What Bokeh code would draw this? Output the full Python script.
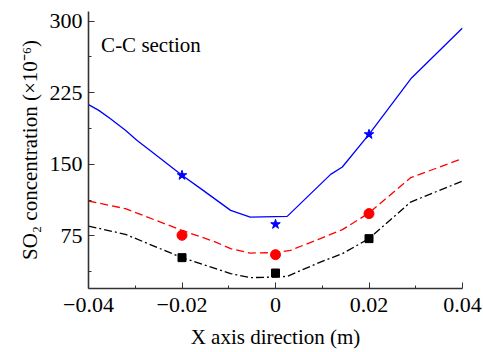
from bokeh.plotting import figure
from bokeh.models import FixedTicker, Label, Range1d
from bokeh.embed import file_html
from bokeh.resources import INLINE

# ---- data ----
blue_x = [-0.04, -0.0378, -0.0353, -0.0321, -0.0296, -0.0264, -0.02, -0.0157, -0.0096,
          -0.0054, 0.0025, 0.0118, 0.0143, 0.02, 0.0291, 0.04]
blue_y = [212.5, 206.5, 197.8, 185.6, 175.0, 162.9, 138.5, 123.5, 101.8,
          94.8, 95.5, 139.5, 147.2, 181.4, 240.4, 292.7]
red_x = [-0.04, -0.0321, -0.02, -0.0128, -0.0096, -0.0054, 0.0, 0.0032, 0.0096, 0.0143,
         0.02, 0.0289, 0.04]
red_y = [111.6, 103.6, 80.9, 68.6, 61.7, 57.1, 57.6, 60.0, 72.2, 81.6,
         99.0, 136.0, 156.0]
black_x = [-0.04, -0.0321, -0.02, -0.0128, -0.0096, -0.0054, 0.0, 0.0025, 0.0096, 0.0143,
           0.02, 0.0289, 0.04]
black_y = [85.4, 76.7, 52.3, 40.8, 35.6, 31.4, 32.0, 32.7, 47.7, 56.5,
           72.2, 110.5, 132.5]

pts_x = [-0.02, 0.0, 0.02]
star_y = [138.5, 87.2, 181.4]
circle_y = [75.7, 55.4, 98.4]
square_y = [52.3, 36.2, 72.2]

x_ticks = [-0.04, -0.02, 0.0, 0.02, 0.04]
x_tick_labels = ["\u22120.04", "\u22120.02", "0", "0.02", "0.04"]
x_minor = [-0.03, -0.01, 0.01, 0.03]
y_ticks = [75, 150, 225, 300]
y_minor = [37.5, 112.5, 187.5, 262.5]

x_title = "X axis direction (m)"
y_title = "SO\u2082 concentration (\u00d710\u207b\u2076)"
section_label = "C-C section"

FONT = "Liberation Serif"

p = figure(width=483, height=352, output_backend="svg", toolbar_location=None,
           x_range=Range1d(-0.04, 0.04), y_range=Range1d(20, 310),
           min_border_left=88, min_border_right=21, min_border_top=11, min_border_bottom=64)
p.outline_line_color = None
p.grid.visible = False
p.background_fill_color = "white"
p.border_fill_color = "white"

p.line(blue_x, blue_y, line_color="#0000ff", line_width=1.3)
p.line(red_x, red_y, line_color="#ff0000", line_width=1.3, line_dash="8 4")
p.line(black_x, black_y, line_color="black", line_width=1.3, line_dash="8 3 2 3")

p.scatter(pts_x, star_y, marker="star", size=10, color="#0000ff")
p.scatter(pts_x, circle_y, marker="circle", size=10, color="#ff0000")
p.scatter(pts_x, square_y, marker="square", size=8, color="black")

for ax in (p.xaxis[0], p.yaxis[0]):
    ax.axis_line_color = "#333333"
    ax.axis_line_width = 1.6
    ax.major_tick_in = 6
    ax.major_tick_out = 0
    ax.minor_tick_in = 3
    ax.minor_tick_out = 0
    ax.major_tick_line_color = "#333333"
    ax.minor_tick_line_color = "#333333"
    ax.major_label_text_font = FONT
    ax.major_label_text_font_size = "22px"
    ax.major_label_text_color = "black"
    ax.axis_label_text_font = FONT
    ax.axis_label_text_font_size = "21px"
    ax.axis_label_text_font_style = "normal"
    ax.axis_label_text_color = "black"

p.xaxis[0].ticker = FixedTicker(ticks=x_ticks, minor_ticks=x_minor)
p.xaxis[0].major_label_overrides = {t: l for t, l in zip(x_ticks, x_tick_labels)}
p.xaxis[0].major_label_standoff = 9
p.xaxis[0].axis_label = x_title
p.xaxis[0].axis_label_standoff = 10
p.yaxis[0].ticker = FixedTicker(ticks=y_ticks, minor_ticks=y_minor)
p.yaxis[0].major_label_standoff = 6
p.yaxis[0].axis_label = y_title
p.yaxis[0].axis_label_standoff = 5

p.add_layout(Label(x=-0.0373, y=275, text=section_label, text_font=FONT,
                   text_font_size="21px", text_color="black", text_baseline="alphabetic"))

open("out.html", "w").write(file_html(p, INLINE))
